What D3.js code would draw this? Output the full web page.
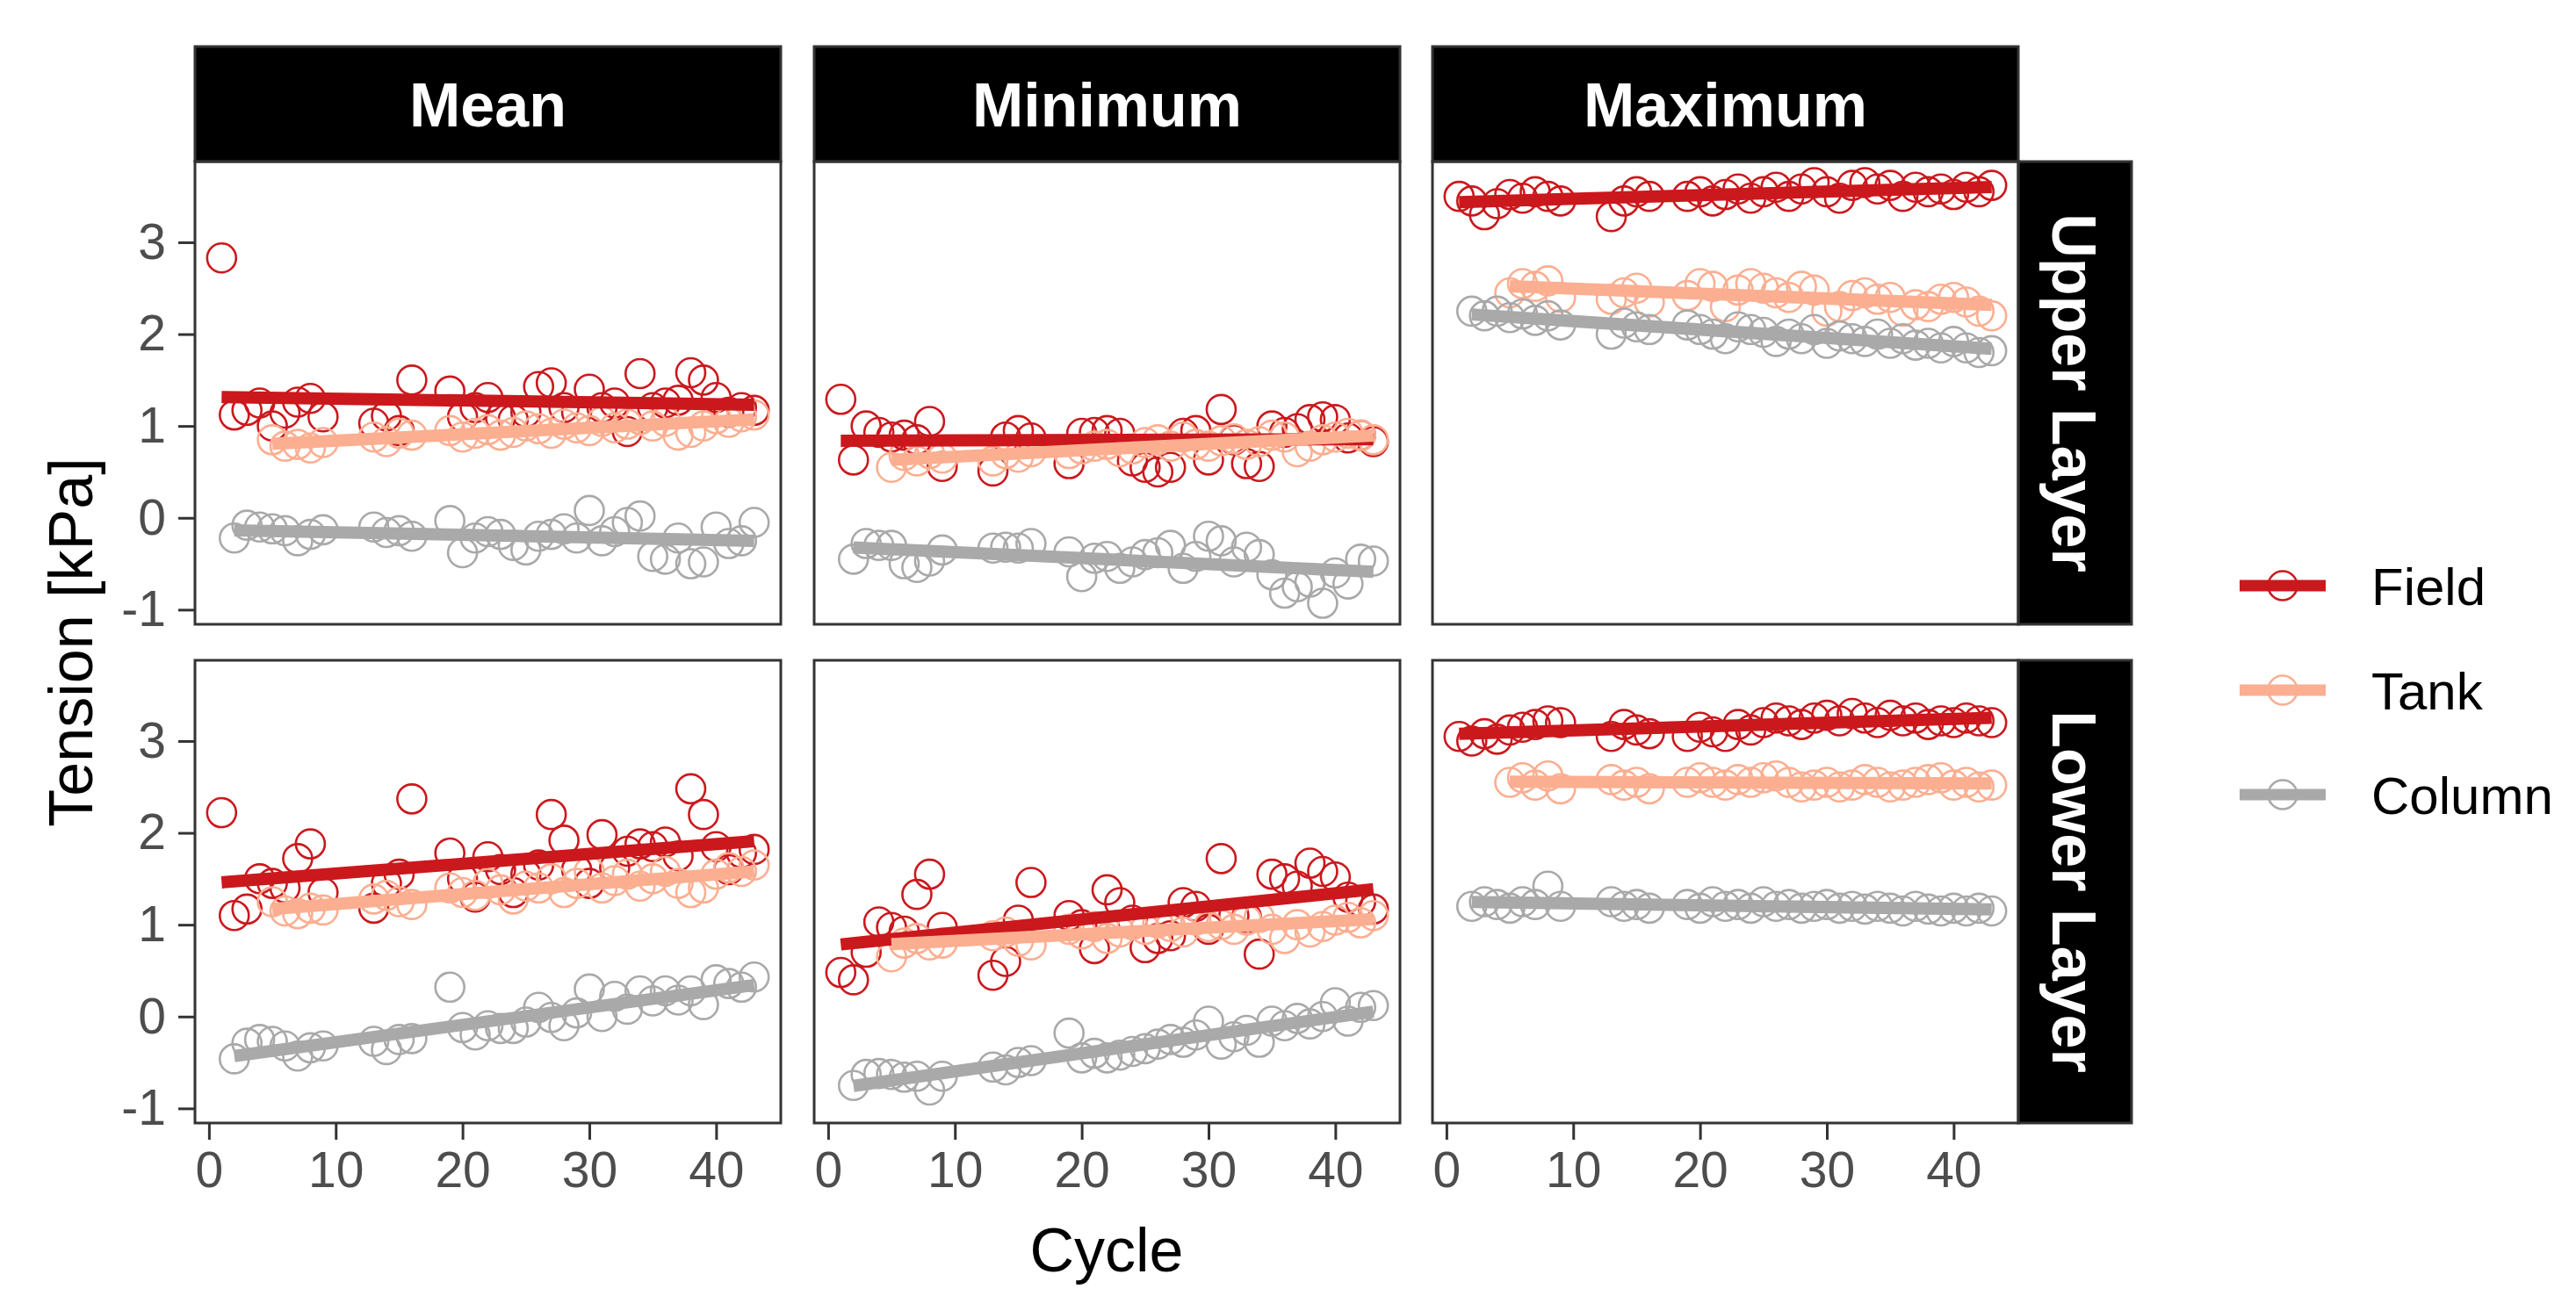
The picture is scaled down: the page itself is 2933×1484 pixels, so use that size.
<!DOCTYPE html>
<html>
<head>
<meta charset="utf-8">
<script src="https://cdn.jsdelivr.net/npm/d3@7"></script>
<style>
  body { margin: 0; background: #fff; }
  svg { display: block; font-family: "Liberation Sans", Arial, sans-serif; }
</style>
</head>
<body>
<svg id="chart" width="2933" height="1484"></svg>
<script>
// cycles with measurements (10-12 and 17-18 missing)
const cycles = [1,2,3,4,5,6,7,8,9,13,14,15,16,19,20,21,22,23,24,25,26,27,28,29,30,31,32,33,34,35,36,37,38,39,40,41,42,43];
const statistics = ["Mean", "Minimum", "Maximum"];
const layers = ["Upper Layer", "Lower Layer"];
const sources = ["Field", "Tank", "Column"];
const xTicks = [0, 10, 20, 30, 40];
const yTicks = [-1, 0, 1, 2, 3];

// Upper layer
const meanUpperField = [2.83,1.12,1.17,1.25,1.00,1.14,1.26,1.30,1.10, 1.03,1.11,0.95,1.50, 1.38,1.10,1.20,1.31,1.09,1.07,1.15,1.43,1.47,1.20,1.15,1.40,1.20,1.25,0.94,1.57,1.20,1.25,1.28,1.58,1.50,1.31,1.15,1.20,1.17];
const meanUpperTank = [null,null,null,null,0.85,0.78,0.80,0.76,0.82, 0.88,0.83,0.92,0.90, 0.95,0.88,0.92,0.96,0.90,0.93,1.00,0.97,0.92,1.02,0.98,0.95,1.05,0.98,1.02,1.07,1.00,1.05,0.90,0.93,1.00,1.08,1.04,1.10,1.12];
const meanUpperColumn = [null,-0.22,-0.08,-0.10,-0.12,-0.14,-0.25,-0.18,-0.13, -0.10,-0.16,-0.14,-0.20, -0.03,-0.38,-0.22,-0.15,-0.18,-0.30,-0.35,-0.20,-0.18,-0.12,-0.22,0.08,-0.25,-0.15,-0.05,0.02,-0.42,-0.45,-0.22,-0.50,-0.48,-0.10,-0.28,-0.25,-0.05];

const minUpperField = [1.29,0.63,1.00,0.93,0.88,0.90,0.85,1.05,0.56, 0.51,0.88,0.95,0.87, 0.59,0.92,0.93,0.95,0.92,0.62,0.55,0.50,0.55,0.92,0.95,0.63,1.18,0.85,0.59,0.56,1.00,0.93,0.97,1.07,1.10,1.07,0.87,0.90,0.83];
const minUpperTank = [null,null,null,null,0.55,0.68,0.62,0.70,0.65, 0.62,0.70,0.66,0.72, 0.70,0.75,0.78,0.80,0.72,0.75,0.82,0.85,0.78,0.88,0.80,0.78,0.84,0.86,0.80,0.83,0.90,0.88,0.72,0.78,0.85,0.88,0.92,0.90,0.85];
const minUpperColumn = [null,-0.45,-0.28,-0.30,-0.30,-0.50,-0.54,-0.47,-0.35, -0.33,-0.32,-0.33,-0.28, -0.37,-0.64,-0.44,-0.42,-0.55,-0.48,-0.40,-0.38,-0.30,-0.55,-0.42,-0.20,-0.25,-0.48,-0.32,-0.40,-0.62,-0.82,-0.75,-0.70,-0.93,-0.60,-0.72,-0.45,-0.47];

const maxUpperField = [3.50,3.45,3.30,3.42,3.52,3.48,3.55,3.50,3.45, 3.28,3.45,3.55,3.50, 3.50,3.55,3.45,3.52,3.58,3.48,3.55,3.60,3.50,3.58,3.65,3.55,3.48,3.62,3.65,3.58,3.62,3.50,3.60,3.55,3.58,3.52,3.60,3.55,3.62];
const maxUpperTank = [null,null,null,null,2.45,2.55,2.52,2.58,2.40, 2.38,2.45,2.50,2.35, 2.42,2.55,2.52,2.30,2.48,2.55,2.50,2.45,2.40,2.52,2.48,2.25,2.30,2.42,2.45,2.38,2.40,2.25,2.32,2.30,2.38,2.40,2.35,2.25,2.20];
const maxUpperColumn = [null,2.25,2.20,2.25,2.18,2.22,2.15,2.20,2.10, 2.00,2.12,2.08,2.05, 2.10,2.05,2.00,1.95,2.08,2.05,2.02,1.92,2.00,1.95,2.05,1.90,1.98,1.95,1.92,2.00,1.90,1.95,1.88,1.90,1.85,1.92,1.85,1.80,1.82];

// Lower layer
const meanLowerField = [2.22,1.10,1.17,1.50,1.45,1.40,1.72,1.88,1.35, 1.18,1.45,1.55,2.37, 1.78,1.50,1.30,1.74,1.60,1.35,1.55,1.65,2.20,1.92,1.60,1.45,1.98,1.62,1.80,1.88,1.85,1.90,1.75,2.48,2.20,1.85,1.60,1.78,1.82];
const meanLowerTank = [null,null,null,null,1.25,1.15,1.12,1.18,1.16, 1.28,1.32,1.25,1.22, 1.40,1.35,1.32,1.45,1.38,1.28,1.42,1.40,1.50,1.35,1.45,1.58,1.40,1.48,1.55,1.42,1.50,1.58,1.45,1.35,1.40,1.55,1.62,1.58,1.65];
const meanLowerColumn = [null,-0.46,-0.29,-0.25,-0.27,-0.32,-0.43,-0.34,-0.32, -0.27,-0.36,-0.25,-0.24, 0.32,-0.12,-0.20,-0.10,-0.13,-0.13,-0.06,0.10,-0.01,-0.10,0.04,0.30,0.00,0.22,0.08,0.28,0.17,0.28,0.18,0.28,0.13,0.40,0.36,0.32,0.43];

const minLowerField = [0.48,0.40,0.70,1.03,0.97,0.93,1.33,1.55,0.97, 0.45,0.60,1.05,1.46, 1.10,1.00,0.74,1.38,1.24,1.05,0.75,0.85,0.88,1.24,1.20,0.95,1.72,1.10,1.08,0.68,1.55,1.50,1.42,1.67,1.58,1.52,1.30,1.25,1.17];
const minLowerTank = [null,null,null,null,0.65,0.80,0.85,0.78,0.80, 0.88,0.92,0.82,0.78, 0.95,0.90,0.98,0.85,0.92,1.00,0.95,1.02,0.98,0.92,1.05,0.98,1.00,0.95,1.05,1.08,0.95,0.85,1.00,0.92,0.98,1.05,1.08,1.02,1.10];
const minLowerColumn = [null,-0.75,-0.63,-0.62,-0.63,-0.66,-0.65,-0.80,-0.65, -0.55,-0.58,-0.50,-0.48, -0.18,-0.45,-0.40,-0.45,-0.42,-0.38,-0.35,-0.30,-0.25,-0.28,-0.20,-0.05,-0.30,-0.22,-0.15,-0.28,-0.05,-0.10,-0.02,-0.08,0.00,0.15,-0.05,0.10,0.12];

const maxLowerField = [3.05,3.00,3.08,3.02,3.12,3.15,3.18,3.22,3.20, 3.05,3.18,3.12,3.08, 3.05,3.15,3.10,3.05,3.18,3.12,3.20,3.25,3.22,3.18,3.25,3.28,3.22,3.30,3.25,3.20,3.28,3.22,3.25,3.18,3.22,3.20,3.25,3.22,3.20];
const maxLowerTank = [null,null,null,null,2.55,2.60,2.52,2.62,2.48, 2.58,2.52,2.55,2.48, 2.55,2.60,2.55,2.52,2.58,2.55,2.60,2.62,2.55,2.50,2.52,2.55,2.50,2.52,2.58,2.55,2.50,2.52,2.55,2.58,2.60,2.52,2.55,2.50,2.52];
const maxLowerColumn = [null,1.20,1.25,1.22,1.18,1.25,1.22,1.42,1.20, 1.25,1.20,1.22,1.18, 1.22,1.18,1.25,1.20,1.22,1.18,1.25,1.20,1.22,1.18,1.20,1.22,1.18,1.20,1.17,1.20,1.18,1.15,1.20,1.17,1.15,1.18,1.15,1.18,1.15];

const panelSeries = {
  "Upper Layer": {
    Mean: [meanUpperField, meanUpperTank, meanUpperColumn],
    Minimum: [minUpperField, minUpperTank, minUpperColumn],
    Maximum: [maxUpperField, maxUpperTank, maxUpperColumn]
  },
  "Lower Layer": {
    Mean: [meanLowerField, meanLowerTank, meanLowerColumn],
    Minimum: [minLowerField, minLowerTank, minLowerColumn],
    Maximum: [maxLowerField, maxLowerTank, maxLowerColumn]
  }
};

const colors = {Field: "#cb181d", Tank: "#fcae91", Column: "#a9a9a9"};

// layout
const panelLeft = [222, 927, 1631];
const panelW = 667;
const panelTop = [184, 752];
const panelH = 527;
const stripTop = 53;
const stripW = 129;

const svg = d3.select("#chart");

const x = d3.scaleLinear().domain([-1.1, 45.1]).range([0, panelW]);

// shared y scale, expanded 5% like ggplot
const allValues = [];
layers.forEach(l => statistics.forEach(s => panelSeries[l][s].forEach(arr => arr.forEach(v => { if (v != null) allValues.push(v); }))));
const ext = d3.extent(allValues);
const pad = (ext[1] - ext[0]) * 0.05;
const y = d3.scaleLinear().domain([ext[0] - pad, ext[1] + pad]).range([panelH, 0]);

function fitLine(values) {
  const pts = [];
  values.forEach((v, i) => { if (v != null) pts.push([cycles[i], v]); });
  const mx = d3.mean(pts, d => d[0]), my = d3.mean(pts, d => d[1]);
  let sxy = 0, sxx = 0;
  pts.forEach(d => { sxy += (d[0] - mx) * (d[1] - my); sxx += (d[0] - mx) * (d[0] - mx); });
  const b = sxy / sxx, a = my - b * mx;
  const x0 = d3.min(pts, d => d[0]), x1 = d3.max(pts, d => d[0]);
  return [[x0, a + b * x0], [x1, a + b * x1]];
}

const line = d3.line().x(d => x(d[0])).y(d => y(d[1]));

// column strips
statistics.forEach((s, ci) => {
  const g = svg.append("g").attr("transform", "translate(" + panelLeft[ci] + "," + stripTop + ")");
  g.append("rect")
    .attr("width", panelW).attr("height", panelTop[0] - stripTop)
    .attr("fill", "#000").attr("stroke", "#333").attr("stroke-width", 3);
  g.append("text")
    .attr("x", panelW / 2).attr("y", (panelTop[0] - stripTop) / 2)
    .attr("dy", "0.36em")
    .attr("text-anchor", "middle")
    .attr("fill", "#fff").attr("font-weight", "bold").attr("font-size", 70)
    .text(s);
});

// row strips
layers.forEach((l, ri) => {
  const g = svg.append("g").attr("transform", "translate(" + (panelLeft[2] + panelW) + "," + panelTop[ri] + ")");
  g.append("rect")
    .attr("width", stripW).attr("height", panelH)
    .attr("fill", "#000").attr("stroke", "#333").attr("stroke-width", 3);
  g.append("text")
    .attr("transform", "translate(" + (stripW / 2) + "," + (panelH / 2) + ") rotate(90)")
    .attr("dy", "0.36em")
    .attr("text-anchor", "middle")
    .attr("fill", "#fff").attr("font-weight", "bold").attr("font-size", 70)
    .text(l);
});

// panels
layers.forEach((l, ri) => {
  statistics.forEach((s, ci) => {
    const g = svg.append("g").attr("transform", "translate(" + panelLeft[ci] + "," + panelTop[ri] + ")");
    const series = panelSeries[l][s];

    // points first, then fit lines (ggplot layer order)
    series.forEach((vals, si) => {
      const pts = [];
      vals.forEach((v, i) => { if (v != null) pts.push([cycles[i], v]); });
      g.append("g").selectAll("circle")
        .data(pts)
        .enter().append("circle")
        .attr("cx", d => x(d[0]))
        .attr("cy", d => y(d[1]))
        .attr("r", 16.5)
        .attr("fill", "none")
        .attr("stroke", colors[sources[si]])
        .attr("stroke-width", 2.6);
    });
    series.forEach((vals, si) => {
      g.append("path")
        .datum(fitLine(vals))
        .attr("d", line)
        .attr("fill", "none")
        .attr("stroke", colors[sources[si]])
        .attr("stroke-width", 14);
    });

    g.append("rect")
      .attr("width", panelW).attr("height", panelH)
      .attr("fill", "none").attr("stroke", "#333").attr("stroke-width", 3);

    if (ci === 0) {
      const ay = g.append("g")
        .call(d3.axisLeft(y).tickValues(yTicks).tickSize(19).tickPadding(14).tickFormat(d => String(d)));
      ay.select(".domain").remove();
      ay.selectAll("line").attr("stroke", "#333").attr("stroke-width", 3);
      ay.selectAll("text").attr("fill", "#4d4d4d").attr("font-size", 57)
        .attr("font-family", "'Liberation Sans', Arial, sans-serif");
    }
    if (ri === 1) {
      const ax = g.append("g").attr("transform", "translate(0," + panelH + ")")
        .call(d3.axisBottom(x).tickValues(xTicks).tickSize(19).tickPadding(14).tickFormat(d => String(d)));
      ax.select(".domain").remove();
      ax.selectAll("line").attr("stroke", "#333").attr("stroke-width", 3);
      ax.selectAll("text").attr("fill", "#4d4d4d").attr("font-size", 57)
        .attr("font-family", "'Liberation Sans', Arial, sans-serif");
    }
  });
});

// axis titles
svg.append("text")
  .attr("x", (panelLeft[0] + panelLeft[2] + panelW) / 2).attr("y", 1448)
  .attr("text-anchor", "middle").attr("font-size", 70).attr("fill", "#000")
  .text("Cycle");
svg.append("text")
  .attr("transform", "translate(105," + (panelTop[0] + (panelTop[1] + panelH - panelTop[0]) / 2) + ") rotate(-90)")
  .attr("text-anchor", "middle").attr("font-size", 70).attr("fill", "#000")
  .text("Tension [kPa]");

// legend
const legend = svg.append("g").attr("transform", "translate(2550,667)");
sources.forEach((src, i) => {
  const k = legend.append("g").attr("transform", "translate(0," + (i * 119) + ")");
  k.append("circle").attr("cx", 49).attr("cy", 0).attr("r", 16.5)
    .attr("fill", "none").attr("stroke", colors[src]).attr("stroke-width", 2.6);
  k.append("line").attr("x1", 0).attr("x2", 98).attr("y1", 0).attr("y2", 0)
    .attr("stroke", colors[src]).attr("stroke-width", 13);
  k.append("text").attr("x", 150).attr("y", 0).attr("dy", "0.36em")
    .attr("font-size", 60).attr("fill", "#000").text(src);
});
</script>
</body>
</html>
